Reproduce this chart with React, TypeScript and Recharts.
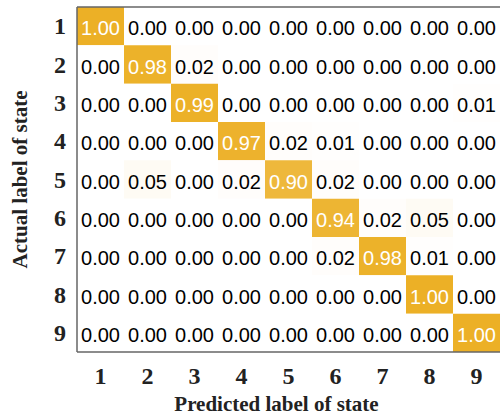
import { Bar, BarChart, Cell, LabelList, ReferenceLine, XAxis, YAxis } from "recharts";

const states = ["1", "2", "3", "4", "5", "6", "7", "8", "9"];

// rows = actual state, columns = predicted state
const row1 = [1.0, 0.0, 0.0, 0.0, 0.0, 0.0, 0.0, 0.0, 0.0];
const row2 = [0.0, 0.98, 0.02, 0.0, 0.0, 0.0, 0.0, 0.0, 0.0];
const row3 = [0.0, 0.0, 0.99, 0.0, 0.0, 0.0, 0.0, 0.0, 0.01];
const row4 = [0.0, 0.0, 0.0, 0.97, 0.02, 0.01, 0.0, 0.0, 0.0];
const row5 = [0.0, 0.05, 0.0, 0.02, 0.9, 0.02, 0.0, 0.0, 0.0];
const row6 = [0.0, 0.0, 0.0, 0.0, 0.0, 0.94, 0.02, 0.05, 0.0];
const row7 = [0.0, 0.0, 0.0, 0.0, 0.0, 0.02, 0.98, 0.01, 0.0];
const row8 = [0.0, 0.0, 0.0, 0.0, 0.0, 0.0, 0.0, 1.0, 0.0];
const row9 = [0.0, 0.0, 0.0, 0.0, 0.0, 0.0, 0.0, 0.0, 1.0];

const matrix = [row1, row2, row3, row4, row5, row6, row7, row8, row9];

const yTicks = [0.5, 1.5, 2.5, 3.5, 4.5, 5.5, 6.5, 7.5, 8.5];

// one entry per predicted column, each row stacked as a unit-height block
const table = states.map((s, j) => {
  const entry: Record<string, number | string> = { pred: s };
  matrix.forEach((row, i) => {
    entry[`r${i}`] = 1;
    entry[`v${i}`] = row[j];
  });
  return entry;
});

const HI = [236, 176, 38];
function cellColor(v: number) {
  const c = HI.map((h) => Math.round(255 + (h - 255) * v));
  return `rgb(${c[0]},${c[1]},${c[2]})`;
}

const serif = "'Liberation Serif', 'Times New Roman', serif";
const sans = "'Liberation Sans', Arial, sans-serif";

function XTick(props: any) {
  const { x, y, payload } = props;
  return (
    <text x={x} y={y + 17} textAnchor="middle" fontFamily={serif} fontSize={24} fontWeight="bold" fill="#222">
      {payload.value}
    </text>
  );
}

function YTick(props: any) {
  const { x, y, payload } = props;
  return (
    <text x={x} y={y + 8} textAnchor="end" fontFamily={serif} fontSize={24} fontWeight="bold" fill="#222">
      {String(Number(payload.value) + 0.5)}
    </text>
  );
}

function renderCellLabel(props: any) {
  const { x, y, width, height, value } = props;
  const v = Number(value);
  return (
    <text
      x={Number(x) + Number(width) / 2}
      y={Number(y) + Number(height) / 2 + 2}
      textAnchor="middle"
      dominantBaseline="central"
      fontFamily={sans}
      fontSize={20}
      fill={v > 0.5 ? "#ffffff" : "#000000"}
    >
      {v.toFixed(2)}
    </text>
  );
}

export default function App() {
  return (
    <div style={{ position: "absolute", left: 0, top: 0 }}>
      <BarChart
        width={500}
        height={416}
        data={table}
        margin={{ top: 7, right: 0, left: 0, bottom: 0 }}
        barCategoryGap={0}
      >
        <XAxis
          dataKey="pred"
          height={64}
          tickSize={0}
          tickMargin={15}
          axisLine={{ stroke: "#666", strokeWidth: 1.5 }}
          tick={<XTick />}
          label={{
            content: ({ viewBox }: any) => (
              <text
                x={viewBox.x + viewBox.width / 2 - 12}
                y={viewBox.y + 59}
                textAnchor="middle"
                fontFamily={serif}
                fontSize={21}
                fontWeight="bold"
                fill="#222"
              >
                Predicted label of state
              </text>
            ),
          }}
        />
        <YAxis
          type="number"
          domain={[0, 9]}
          reversed
          ticks={yTicks}
          interval={0}
          width={77}
          tickSize={0}
          tickMargin={11}
          axisLine={{ stroke: "#666", strokeWidth: 1.5 }}
          tick={<YTick />}
          label={{
            content: ({ viewBox }: any) => {
              const cx = 20;
              const cy = viewBox.y + viewBox.height / 2;
              return (
                <text
                  x={cx}
                  y={cy}
                  transform={`rotate(-90 ${cx} ${cy})`}
                  textAnchor="middle"
                  dominantBaseline="central"
                  fontFamily={serif}
                  fontSize={21}
                  fontWeight="bold"
                  fill="#222"
                >
                  Actual label of state
                </text>
              );
            },
          }}
        />
        {matrix.map((row, i) => (
          <Bar key={i} dataKey={`r${i}`} stackId="a" isAnimationActive={false}>
            {row.map((v, j) => (
              <Cell key={j} fill={cellColor(v)} />
            ))}
            <LabelList dataKey={`v${i}`} content={renderCellLabel} />
          </Bar>
        ))}
        <ReferenceLine y={0} stroke="#666" strokeWidth={1.5} />
      </BarChart>
    </div>
  );
}
